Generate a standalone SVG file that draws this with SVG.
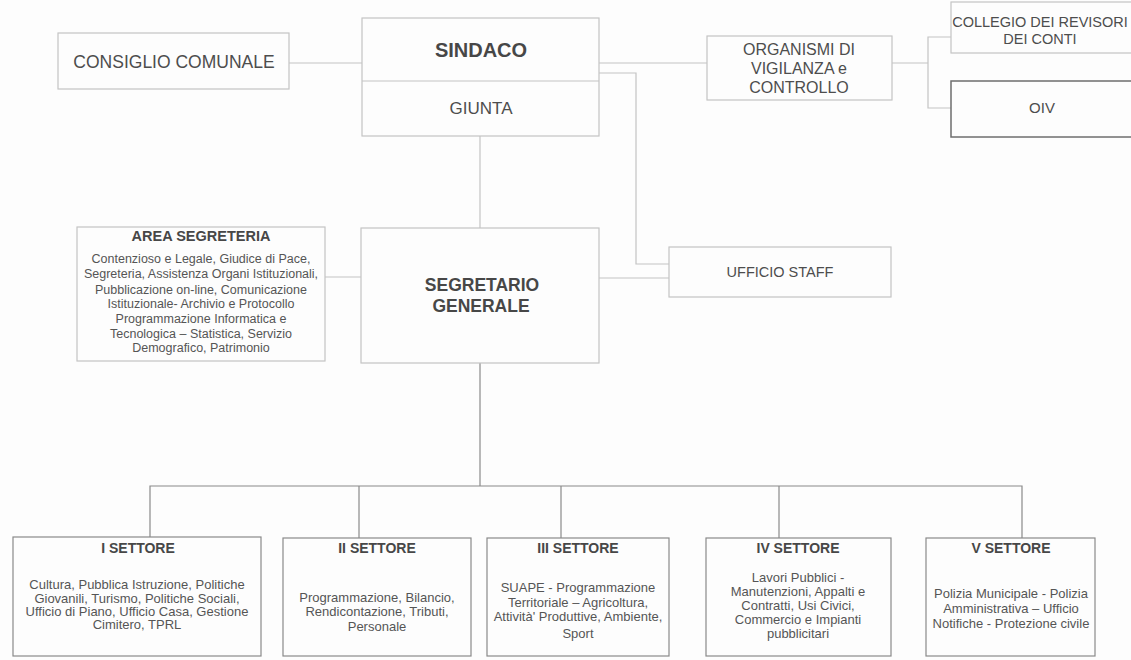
<svg xmlns="http://www.w3.org/2000/svg" width="1131" height="660" viewBox="0 0 1131 660">
<style>
text{font-family:"Liberation Sans",Arial,sans-serif;fill:#4d4d4d;text-anchor:middle}
.box{fill:#fdfdfd;stroke:#c4c4c4;stroke-width:1.2}
.sbox{fill:#fdfdfd;stroke:#8a8a8a;stroke-width:1.2}
.dbox{fill:#fdfdfd;stroke:#6e6e6e;stroke-width:1.5}
.ln{fill:none;stroke:#c4c4c4;stroke-width:1.2}
.sln{fill:none;stroke:#8a8a8a;stroke-width:1.2}
.t17{font-size:17.5px}
.b{font-weight:bold;fill:#474747}
.body{font-size:12.5px;fill:#555}
.sbody{font-size:13px;fill:#555}
</style>
<rect width="1131" height="660" fill="#fdfdfd"/>
<g id="connectors">
<path class="ln" d="M289 63H362"/>
<path class="ln" d="M599 63H707"/>
<path class="ln" d="M599 73H636V264H669"/>
<path class="ln" d="M892 63H928"/>
<path class="ln" d="M951 37H928V108H951"/>
<path class="ln" d="M480 136V228"/>
<path class="ln" d="M325 277H361"/>
<path class="ln" d="M599 278H669"/>
<path class="sln" d="M480 363V486"/>
<path class="sln" d="M150 537V486H1022V538"/>
<path class="sln" d="M359 486V538"/>
<path class="sln" d="M561 486V538"/>
<path class="sln" d="M779 486V538"/>
</g>
<g id="consiglio">
<rect class="box" x="58" y="33" width="231" height="56"/>
<text class="t17" x="174" y="68">CONSIGLIO COMUNALE</text>
</g>
<g id="sindaco">
<rect class="box" x="362" y="18" width="237" height="118"/>
<path class="ln" d="M362 81H599"/>
<text class="b" x="481" y="57" style="font-size:20px">SINDACO</text>
<text class="t17" x="481" y="114" style="font-size:17px">GIUNTA</text>
</g>
<g id="organismi">
<rect class="box" x="707" y="36" width="185" height="64"/>
<text x="799" y="55" style="font-size:16px">ORGANISMI DI</text>
<text x="799" y="74" style="font-size:16px">VIGILANZA e</text>
<text x="799" y="93" style="font-size:16px">CONTROLLO</text>
</g>
<g id="collegio">
<rect class="box" x="951" y="2" width="185" height="51"/>
<text x="1040" y="27" style="font-size:14.5px">COLLEGIO DEI REVISORI</text>
<text x="1040" y="44" style="font-size:14.5px">DEI CONTI</text>
</g>
<g id="oiv">
<rect class="dbox" x="951" y="81" width="185" height="56"/>
<text x="1042" y="113" style="font-size:15px">OIV</text>
</g>
<g id="area-segreteria">
<rect class="box" x="77" y="227" width="248" height="134"/>
<text class="b" x="201" y="241" style="font-size:14.5px">AREA SEGRETERIA</text>
<text class="body" x="201" y="263">Contenzioso e Legale, Giudice di Pace,</text>
<text class="body" x="201" y="278">Segreteria, Assistenza Organi Istituzionali,</text>
<text class="body" x="201" y="294">Pubblicazione on-line, Comunicazione</text>
<text class="body" x="201" y="308">Istituzionale- Archivio e Protocollo</text>
<text class="body" x="201" y="323">Programmazione Informatica e</text>
<text class="body" x="201" y="338">Tecnologica – Statistica, Servizio</text>
<text class="body" x="201" y="352">Demografico, Patrimonio</text>
</g>
<g id="segretario">
<rect class="box" x="361" y="228" width="238" height="135"/>
<text class="b" x="482" y="291" style="font-size:17.5px">SEGRETARIO</text>
<text class="b" x="481" y="312" style="font-size:17.5px">GENERALE</text>
</g>
<g id="ufficio-staff">
<rect class="box" x="669" y="247" width="222" height="50"/>
<text x="780" y="277" style="font-size:14.5px">UFFICIO STAFF</text>
</g>
<g id="settore-1">
<rect class="sbox" x="13" y="537" width="248" height="119"/>
<text class="b" x="138" y="553" style="font-size:14px">I SETTORE</text>
<text class="sbody" x="137" y="589">Cultura, Pubblica Istruzione, Politiche</text>
<text class="sbody" x="137" y="603">Giovanili, Turismo, Politiche Sociali,</text>
<text class="sbody" x="137" y="616">Ufficio di Piano, Ufficio Casa, Gestione</text>
<text class="sbody" x="137" y="629">Cimitero, TPRL</text>
</g>
<g id="settore-2">
<rect class="sbox" x="283" y="538" width="188" height="118"/>
<text class="b" x="377" y="553" style="font-size:14px">II SETTORE</text>
<text class="sbody" x="377" y="602">Programmazione, Bilancio,</text>
<text class="sbody" x="377" y="616">Rendicontazione, Tributi,</text>
<text class="sbody" x="377" y="631">Personale</text>
</g>
<g id="settore-3">
<rect class="sbox" x="487" y="538" width="182" height="118"/>
<text class="b" x="578" y="553" style="font-size:14px">III SETTORE</text>
<text class="sbody" x="578" y="592">SUAPE - Programmazione</text>
<text class="sbody" x="578" y="607">Territoriale –  Agricoltura,</text>
<text class="sbody" x="578" y="621">Attività' Produttive, Ambiente,</text>
<text class="sbody" x="578" y="638">Sport</text>
</g>
<g id="settore-4">
<rect class="sbox" x="706" y="538" width="185" height="118"/>
<text class="b" x="798" y="553" style="font-size:14px">IV SETTORE</text>
<text class="sbody" x="798" y="582">Lavori Pubblici -</text>
<text class="sbody" x="798" y="596">Manutenzioni, Appalti e</text>
<text class="sbody" x="798" y="610">Contratti, Usi Civici,</text>
<text class="sbody" x="798" y="624">Commercio e Impianti</text>
<text class="sbody" x="798" y="638">pubblicitari</text>
</g>
<g id="settore-5">
<rect class="sbox" x="926" y="538" width="169" height="118"/>
<text class="b" x="1011" y="553" style="font-size:14px">V SETTORE</text>
<text class="sbody" x="1011" y="598">Polizia Municipale - Polizia</text>
<text class="sbody" x="1011" y="613">Amministrativa – Ufficio</text>
<text class="sbody" x="1011" y="628">Notifiche - Protezione civile</text>
</g>
</svg>
